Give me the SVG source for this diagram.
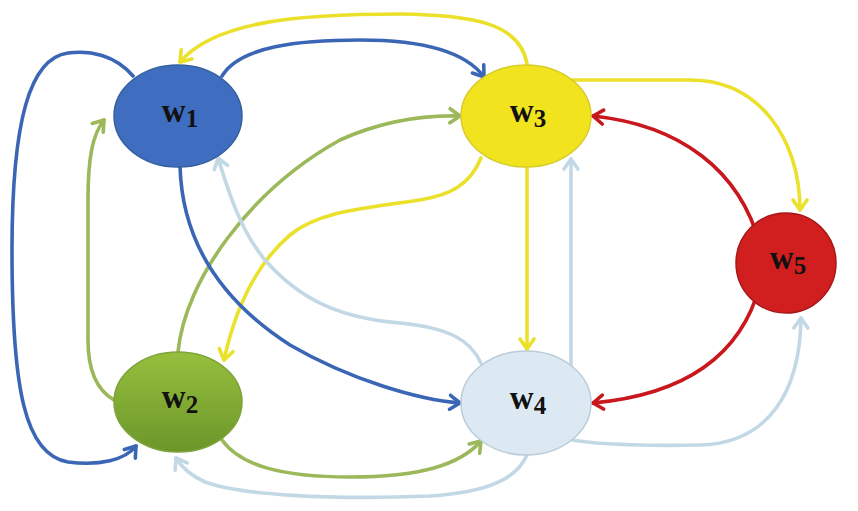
<svg xmlns="http://www.w3.org/2000/svg" width="858" height="511" viewBox="0 0 858 511">
<defs>
<style>
.e{fill:none;stroke-width:3.6;stroke-linecap:round;stroke-linejoin:round}
.bl{stroke:#3a66b5}
.ye{stroke:#ebe02a}
.gr{stroke:#9bb85a}
.lb{stroke:#c3d8e5}
.rd{stroke:#c9171e}
.lbl{font-family:"Liberation Serif","DejaVu Serif",serif;font-weight:bold;font-size:33px;fill:#111}
.sub{font-size:25px}
</style>
<marker id="mBl" markerUnits="userSpaceOnUse" markerWidth="24" markerHeight="24" viewBox="-14 -12 16 24" refX="0" refY="0" orient="auto"><path d="M-10,-7 L0,0 L-10,7" fill="none" stroke="#3a66b5" stroke-width="3.6" stroke-linecap="round" stroke-linejoin="round"/></marker>
<marker id="mYe" markerUnits="userSpaceOnUse" markerWidth="24" markerHeight="24" viewBox="-14 -12 16 24" refX="0" refY="0" orient="auto"><path d="M-10,-7 L0,0 L-10,7" fill="none" stroke="#ebe02a" stroke-width="3.6" stroke-linecap="round" stroke-linejoin="round"/></marker>
<marker id="mGr" markerUnits="userSpaceOnUse" markerWidth="24" markerHeight="24" viewBox="-14 -12 16 24" refX="0" refY="0" orient="auto"><path d="M-10,-7 L0,0 L-10,7" fill="none" stroke="#9bb85a" stroke-width="3.6" stroke-linecap="round" stroke-linejoin="round"/></marker>
<marker id="mLb" markerUnits="userSpaceOnUse" markerWidth="24" markerHeight="24" viewBox="-14 -12 16 24" refX="0" refY="0" orient="auto"><path d="M-10,-7 L0,0 L-10,7" fill="none" stroke="#c3d8e5" stroke-width="3.6" stroke-linecap="round" stroke-linejoin="round"/></marker>
<marker id="mRd" markerUnits="userSpaceOnUse" markerWidth="24" markerHeight="24" viewBox="-14 -12 16 24" refX="0" refY="0" orient="auto"><path d="M-10,-7 L0,0 L-10,7" fill="none" stroke="#c9171e" stroke-width="3.6" stroke-linecap="round" stroke-linejoin="round"/></marker>
<linearGradient id="gGreen" x1="0" y1="0" x2="0" y2="1">
<stop offset="0" stop-color="#97bf3e"/>
<stop offset="1" stop-color="#6c962a"/>
</linearGradient>
</defs>
<rect width="858" height="511" fill="#ffffff"/>
<g id="connectors">
<path class="e ye" marker-end="url(#mYe)" d="M527,64 C520,22 470,15 400,14 C300,14 215,21 180,62"/>
<path class="e bl" marker-end="url(#mBl)" d="M222,76 C240,46 300,40 360,40 C420,40 465,51 484,77"/>
<path class="e bl" marker-end="url(#mBl)" d="M133,76 C115,55 90,50 68,53 C30,58 12,120 12,250 C12,390 25,455 68,462 C100,466 125,460 136,446"/>
<path class="e gr" marker-end="url(#mGr)" d="M114,400 C100,392 88,375 88,340 L88,200 C88,160 92,135 104,120"/>
<path class="e gr" marker-end="url(#mGr)" d="M178,352 C185,280 250,190 340,140 C380,122 420,115 460,116"/>
<path class="e ye" marker-end="url(#mYe)" d="M481,158 C470,185 450,195 420,200 C370,208 320,210 290,235 C255,265 235,310 224,360"/>
<path class="e bl" marker-end="url(#mBl)" d="M180,166 C182,240 220,300 290,345 C350,380 420,400 460,403"/>
<path class="e lb" marker-end="url(#mLb)" d="M481,363 C470,340 450,328 400,323 C340,318 300,300 265,260 C240,230 228,190 218,158"/>
<path class="e ye" marker-end="url(#mYe)" d="M527,167 L527,349"/>
<path class="e lb" marker-end="url(#mLb)" d="M571,366 L571,159"/>
<path class="e ye" marker-end="url(#mYe)" d="M572,80 L690,80 C760,80 800,140 800,210"/>
<path class="e rd" marker-end="url(#mRd)" d="M760,245 C740,170 680,125 593,116"/>
<path class="e rd" marker-end="url(#mRd)" d="M760,285 C740,360 680,395 593,403"/>
<path class="e lb" marker-end="url(#mLb)" d="M572,440 C600,445 660,446 700,445 C770,443 800,390 801,318"/>
<path class="e gr" marker-end="url(#mGr)" d="M222,440 C240,465 280,477 350,477 C420,477 460,465 481,441"/>
<path class="e lb" marker-end="url(#mLb)" d="M527,455 C517,478 490,492 430,496 C330,500 240,495 205,482 C192,476 182,468 176,458"/>
</g>
<g id="w1">
<ellipse cx="178" cy="116" rx="64" ry="51" fill="#3f6dbf" stroke="#35609f" stroke-width="1.5"/>
<text class="lbl" x="180" y="122" text-anchor="middle">w<tspan class="sub" dy="5">1</tspan></text>
</g>
<g id="w3">
<ellipse cx="526" cy="116" rx="65" ry="51" fill="#f1e41e" stroke="#d8cc2a" stroke-width="1.5"/>
<text class="lbl" x="528" y="122" text-anchor="middle">w<tspan class="sub" dy="5">3</tspan></text>
</g>
<g id="w2">
<ellipse cx="178" cy="402" rx="64" ry="50" fill="url(#gGreen)" stroke="#7ea33a" stroke-width="1.5"/>
<text class="lbl" x="180" y="408" text-anchor="middle">w<tspan class="sub" dy="5">2</tspan></text>
</g>
<g id="w4">
<ellipse cx="526" cy="403" rx="65" ry="52" fill="#dde9f2" stroke="#b9ccd8" stroke-width="1.5"/>
<text class="lbl" x="528" y="409" text-anchor="middle">w<tspan class="sub" dy="5">4</tspan></text>
</g>
<g id="w5">
<ellipse cx="786" cy="263" rx="50" ry="50" fill="#d11f20" stroke="#a8181a" stroke-width="1.5"/>
<text class="lbl" x="788" y="269" text-anchor="middle">w<tspan class="sub" dy="5">5</tspan></text>
</g>
</svg>
